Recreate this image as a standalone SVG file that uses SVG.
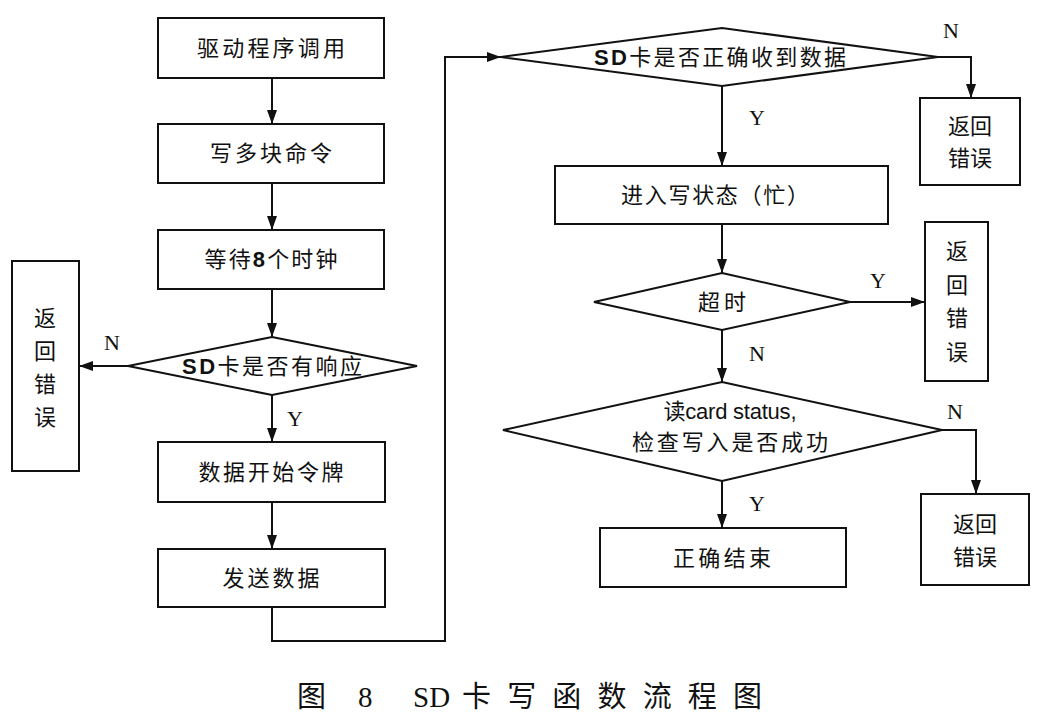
<svg xmlns="http://www.w3.org/2000/svg" width="1043" height="728" viewBox="0 0 1043 728">
<style>
.box{fill:#fff;stroke:#111;stroke-width:2}
.t{font-family:"Liberation Serif","Noto Sans CJK SC",serif;font-size:22px;fill:#111;text-anchor:middle;dominant-baseline:central}
.s{font-family:"Liberation Sans","Noto Sans CJK SC",sans-serif;font-weight:bold}
.n{font-family:"Liberation Sans","Noto Sans CJK SC",sans-serif}
.v{font-family:"Liberation Serif","Noto Sans CJK SC",serif;font-size:22px;fill:#111;text-anchor:middle;dominant-baseline:central}
.lbl{font-family:"Liberation Serif",serif;font-size:22px;fill:#111;text-anchor:middle;dominant-baseline:central}
.c{fill:none;stroke:#111;stroke-width:2}
.cap{font-family:"Liberation Serif","Noto Sans CJK SC",serif;font-size:29px;fill:#111}
</style>
<defs>
<marker id="ah" viewBox="0 0 14 10" refX="14" refY="5" markerWidth="14" markerHeight="10" markerUnits="userSpaceOnUse" orient="auto">
<path d="M0,0 L14,5 L0,10 z" fill="#111"/>
</marker>
</defs>
<rect width="1043" height="728" fill="#fff"/>

<g id="connectors">
<path class="c" d="M272,78 V124" marker-end="url(#ah)"/>
<path class="c" d="M272,183 V230" marker-end="url(#ah)"/>
<path class="c" d="M272,289 V337" marker-end="url(#ah)"/>
<path class="c" d="M128,366 H79" marker-end="url(#ah)"/>
<path class="c" d="M272,395 V442" marker-end="url(#ah)"/>
<path class="c" d="M272,502 V549" marker-end="url(#ah)"/>
<path class="c" d="M272,607 V641 H445 V57 H501" marker-end="url(#ah)"/>
<path class="c" d="M938,57 H971 V98" marker-end="url(#ah)"/>
<path class="c" d="M722,86 V166" marker-end="url(#ah)"/>
<path class="c" d="M722,224 V273" marker-end="url(#ah)"/>
<path class="c" d="M850,302 H925" marker-end="url(#ah)"/>
<path class="c" d="M722,330 V382" marker-end="url(#ah)"/>
<path class="c" d="M942,430 H976 V494" marker-end="url(#ah)"/>
<path class="c" d="M722,481 V528" marker-end="url(#ah)"/>
<text class="lbl" x="112" y="342">N</text>
<text class="lbl" x="295" y="418">Y</text>
<text class="lbl" x="951" y="30">N</text>
<text class="lbl" x="757" y="117">Y</text>
<text class="lbl" x="878" y="280">Y</text>
<text class="lbl" x="757" y="353">N</text>
<text class="lbl" x="955" y="411">N</text>
<text class="lbl" x="757" y="503">Y</text>
</g>

<g id="n1"><rect class="box" x="158" y="18" width="226" height="60"/><text class="t" x="271" y="48" textLength="148" lengthAdjust="spacing">驱动程序调用</text></g>
<g id="n2"><rect class="box" x="158" y="124" width="226" height="59"/><text class="t" x="271" y="153" textLength="122" lengthAdjust="spacing">写多块命令</text></g>
<g id="n3"><rect class="box" x="158" y="230" width="226" height="59"/><text class="t" x="271" y="259" textLength="133" lengthAdjust="spacing">等待<tspan class="s">8</tspan>个时钟</text></g>
<g id="d1"><polygon class="box" points="272,337 417,366 272,395 128,366"/><text class="t" x="272" y="366" textLength="180" lengthAdjust="spacing"><tspan class="s">SD</tspan>卡是否有响应</text></g>
<g id="e1"><rect class="box" x="12" y="261" width="67" height="210"/>
<text class="v" x="45" y="318">返</text><text class="v" x="45" y="351">回</text><text class="v" x="45" y="384">错</text><text class="v" x="45" y="417">误</text></g>
<g id="n4"><rect class="box" x="158" y="442" width="227" height="60"/><text class="t" x="271" y="472" textLength="145" lengthAdjust="spacing">数据开始令牌</text></g>
<g id="n5"><rect class="box" x="158" y="549" width="227" height="58"/><text class="t" x="271" y="578" textLength="97" lengthAdjust="spacing">发送数据</text></g>

<g id="d2"><polygon class="box" points="722,28 938,57 722,86 501,57"/><text class="t" x="720" y="57" textLength="252" lengthAdjust="spacing"><tspan class="s">SD</tspan>卡是否正确收到数据</text></g>
<g id="e2"><rect class="box" x="920" y="98" width="100" height="87"/><text class="v" x="970" y="126">返回</text><text class="v" x="970" y="158">错误</text></g>
<g id="n6"><rect class="box" x="555" y="166" width="333" height="58"/><text class="t" x="715" y="195" textLength="188" lengthAdjust="spacing">进入写状态（忙）</text></g>
<g id="d3"><polygon class="box" points="722,273 850,302 722,330 594,302"/><text class="t" x="722" y="302" textLength="48" lengthAdjust="spacing">超时</text></g>
<g id="e3"><rect class="box" x="925" y="222" width="63" height="159"/>
<text class="v" x="957" y="251">返</text><text class="v" x="957" y="285">回</text><text class="v" x="957" y="318">错</text><text class="v" x="957" y="352">误</text></g>
<g id="d4"><polygon class="box" points="722,382 942,430 722,481 503,430"/>
<text class="t" x="730" y="411" textLength="133" lengthAdjust="spacing">读<tspan class="n">card status,</tspan></text>
<text class="t" x="730" y="442" textLength="196" lengthAdjust="spacing">检查写入是否成功</text></g>
<g id="e4"><rect class="box" x="921" y="494" width="108" height="91"/><text class="v" x="975" y="524">返回</text><text class="v" x="975" y="557">错误</text></g>
<g id="n7"><rect class="box" x="600" y="528" width="246" height="59"/><text class="t" x="722" y="558" textLength="98" lengthAdjust="spacing">正确结束</text></g>

<g id="caption">
<text class="cap" x="297" y="707">图</text>
<text class="cap" x="358" y="707">8</text>
<text class="cap" x="413" y="707">SD</text>
<text class="cap" x="462" y="707" textLength="300" lengthAdjust="spacing">卡写函数流程图</text>
</g>
</svg>
